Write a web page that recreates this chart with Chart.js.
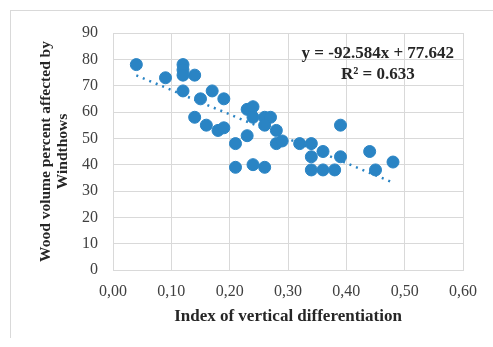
<!DOCTYPE html>
<html>
<head>
<meta charset="utf-8">
<script src="https://cdn.jsdelivr.net/npm/chart.js@4.4.0/dist/chart.umd.min.js"></script>
<style>
  html, body { margin: 0; padding: 0; background: #fff; }
  #wrap { position: relative; width: 493px; height: 347px; overflow: hidden; }
  #frame { position: absolute; left: 10px; top: 10px; width: 600px; height: 327px;
           border-left: 1px solid #d9d9d9; border-top: 1px solid #d9d9d9; }
  canvas { position: absolute; left: 0; top: 0; }
</style>
</head>
<body>
<div id="wrap">
  <div id="frame"></div>
  <canvas id="chart" width="493" height="347"></canvas>
</div>
<script>
// index of vertical differentiation
const indexValues = [0.04, 0.09, 0.12, 0.12, 0.12, 0.14, 0.12, 0.17, 0.15, 0.19,
  0.23, 0.24, 0.24, 0.26, 0.27, 0.26, 0.28, 0.14, 0.16, 0.18,
  0.19, 0.23, 0.21, 0.28, 0.29, 0.32, 0.39, 0.34, 0.34, 0.36,
  0.39, 0.44, 0.48, 0.24, 0.26, 0.21, 0.34, 0.36, 0.38, 0.45];
// wood volume percent affected by windthrows
const woodPercent = [78, 73, 78, 76, 74, 74, 68, 68, 65, 65,
  61, 62, 58, 58, 58, 55, 53, 58, 55, 53,
  54, 51, 48, 48, 49, 48, 55, 48, 43, 45,
  43, 45, 41, 40, 39, 39, 38, 38, 38, 38];

// linear trend line ends (y = -92.584x + 77.642)
const trendX = [0.04, 0.48];
const trendY = [73.9, 33.2];
const trendLabel = ['y = -92.584x + 77.642', 'R\u00b2 = 0.633'];

const xTicks = [0, 0.1, 0.2, 0.3, 0.4, 0.5, 0.6];
const yTicks = [0, 10, 20, 30, 40, 50, 60, 70, 80, 90];

const blue = '#2a84c4';
const serif = '"Liberation Serif", "Times New Roman", serif';

const equationPlugin = {
  id: 'equation',
  afterDatasetsDraw(chart) {
    const ctx = chart.ctx;
    const x = chart.scales.x.getPixelForValue(0.454);
    const y = chart.scales.y.getPixelForValue(82);
    ctx.save();
    ctx.font = 'bold 17px ' + serif;
    ctx.fillStyle = '#262626';
    ctx.textAlign = 'center';
    ctx.textBaseline = 'middle';
    ctx.fillText(trendLabel[0], x, y);
    ctx.fillText(trendLabel[1], x, y + 21);
    ctx.restore();
  }
};

new Chart(document.getElementById('chart'), {
  type: 'scatter',
  data: {
    datasets: [{
      label: 'points',
      data: indexValues.map((v, i) => ({ x: v, y: woodPercent[i] })),
      backgroundColor: blue,
      borderColor: blue,
      pointRadius: 6,
      pointHoverRadius: 6,
      order: 1
    }, {
      label: 'trend',
      type: 'line',
      data: trendX.map((v, i) => ({ x: v, y: trendY[i] })),
      borderColor: blue,
      borderWidth: 2.5,
      borderDash: [2, 5],
      pointRadius: 0,
      fill: false,
      order: 2
    }]
  },
  options: {
    responsive: false,
    animation: false,
    layout: { padding: { top: 33, right: 30, left: 0, bottom: 0 } },
    plugins: { legend: { display: false }, tooltip: { enabled: false } },
    scales: {
      x: {
        type: 'linear',
        min: 0,
        max: 0.6,
        afterFit: s => { s.height = 77; },
        afterBuildTicks: s => { s.ticks = xTicks.map(v => ({ value: v })); },
        ticks: {
          padding: 12,
          color: '#404040',
          font: { family: serif, size: 16 },
          callback: v => v.toFixed(2).replace('.', ',')
        },
        grid: { color: '#d9d9d9', lineWidth: 1, drawTicks: false },
        border: { color: '#d9d9d9' },
        title: {
          display: true,
          text: 'Index of vertical differentiation',
          color: '#262626',
          font: { family: serif, size: 17, weight: 'bold' },
          padding: { top: 0, bottom: 19.8 }
        }
      },
      y: {
        min: 0,
        max: 90,
        afterFit: s => { s.width = 113; },
        afterBuildTicks: s => { s.ticks = yTicks.map(v => ({ value: v })); },
        ticks: {
          padding: 15,
          color: '#404040',
          font: { family: serif, size: 16 }
        },
        grid: { color: '#d9d9d9', lineWidth: 1, drawTicks: false },
        border: { color: '#d9d9d9' },
        title: {
          display: true,
          text: ['Wood volume percent affected by', 'Windthows'],
          color: '#262626',
          font: { family: serif, size: 15.5, weight: 'bold', lineHeight: 1.1 },
          padding: { top: 37.5, bottom: 0 }
        }
      }
    }
  },
  plugins: [equationPlugin]
});
</script>
</body>
</html>
